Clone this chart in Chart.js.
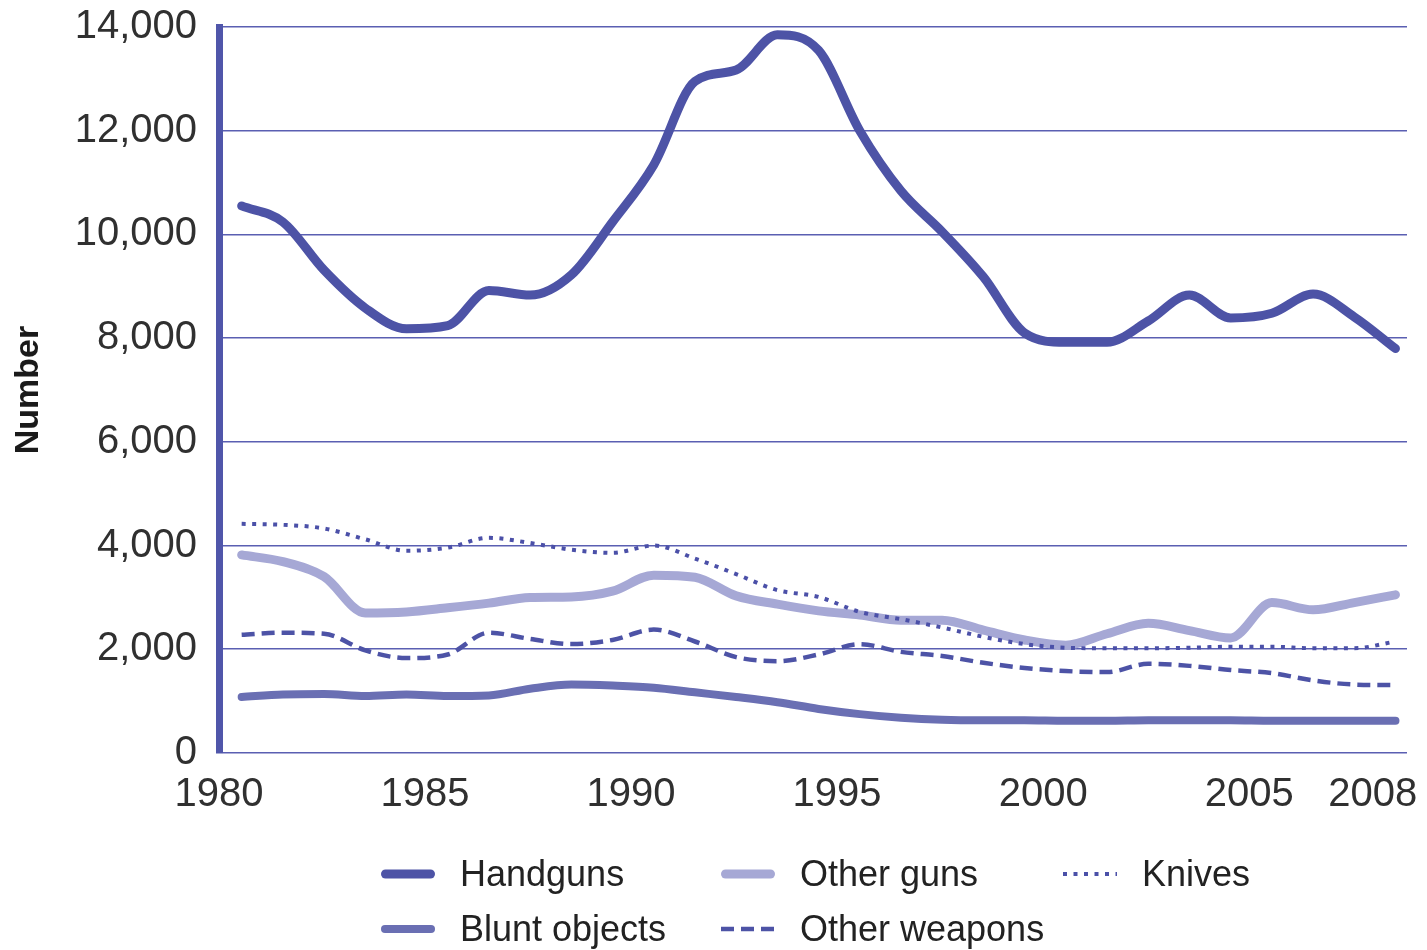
<!DOCTYPE html>
<html>
<head>
<meta charset="utf-8">
<script src="https://cdn.jsdelivr.net/npm/chart.js@4.4.1/dist/chart.umd.min.js"></script>
<style>
  html, body { margin: 0; padding: 0; background: #ffffff; }
  #wrap { position: relative; width: 1427px; height: 950px; }
  #c { position: absolute; left: 0; top: 0; }
  #legend {
    position: absolute; left: 380px; top: 846px;
    display: grid; grid-template-columns: 340px 342px auto; grid-auto-rows: 55px;
    font-family: "Liberation Sans", Arial, sans-serif; font-size: 36px; color: #222;
  }
  .item { display: flex; align-items: center; white-space: nowrap; }
  .item canvas { margin-right: 24px; }
</style>
</head>
<body>
<div id="wrap">
  <canvas id="c" width="1427" height="950"></canvas>
  <div id="legend"></div>
</div>
<script>
const years = [1980,1981,1982,1983,1984,1985,1986,1987,1988,1989,1990,1991,1992,1993,1994,1995,1996,1997,1998,1999,2000,2001,2002,2003,2004,2005,2006,2007,2008];
const xTickValues = [1980,1985,1990,1995,2000,2005,2008];
const yTickStep = 2000;
const yMax = 14000;

const handguns = [10550,10240,9310,8580,8180,8240,8920,8830,9220,10240,11340,12950,13170,13850,13550,12000,10840,10050,9180,8100,7920,7920,8330,8830,8390,8480,8850,8410,7800];
const otherGuns = [3820,3690,3400,2700,2720,2800,2890,3000,3010,3120,3430,3390,3030,2870,2740,2660,2560,2560,2370,2180,2080,2300,2500,2360,2220,2900,2760,2900,3050];
const knives = [4420,4400,4330,4120,3900,3960,4150,4050,3920,3860,4000,3750,3450,3140,3010,2720,2580,2420,2240,2100,2030,2020,2020,2030,2050,2050,2020,2020,2150];
const bluntObjects = [1080,1130,1140,1100,1130,1100,1110,1240,1320,1300,1260,1170,1080,980,850,750,680,640,630,630,620,620,630,630,630,620,620,620,620];
const otherWeapons = [2280,2320,2300,1980,1830,1900,2320,2200,2100,2180,2380,2150,1850,1770,1900,2100,1950,1870,1740,1640,1580,1560,1720,1680,1600,1540,1400,1320,1310];

const seriesNames = ["Handguns","Other guns","Knives","Blunt objects","Other weapons"];

// values are annual figures plotted at mid-year
const pts = arr => arr.map((v, i) => ({ x: years[i] + 0.55, y: v }));

const base = { fill: false, pointRadius: 0, pointHoverRadius: 0, cubicInterpolationMode: 'monotone', borderJoinStyle: 'round' };

const datasets = [
  Object.assign({}, base, { label: seriesNames[0], data: pts(handguns), borderColor: '#4d53a6', borderWidth: 9, borderCapStyle: 'round', order: 1 }),
  Object.assign({}, base, { label: seriesNames[1], data: pts(otherGuns), borderColor: '#a6a8d5', borderWidth: 9, borderCapStyle: 'round', order: 4 }),
  Object.assign({}, base, { label: seriesNames[2], data: pts(knives), borderColor: '#4b50a8', borderWidth: 4, borderDash: [4, 6.5], borderCapStyle: 'butt', order: 3 }),
  Object.assign({}, base, { label: seriesNames[3], data: pts(bluntObjects), borderColor: '#6a6fb3', borderWidth: 8, borderCapStyle: 'round', order: 5 }),
  Object.assign({}, base, { label: seriesNames[4], data: pts(otherWeapons), borderColor: '#4d53a6', borderWidth: 4.5, borderDash: [13, 7], borderCapStyle: 'butt', order: 2 })
];

const tickFont = { family: '"Liberation Sans", Arial, sans-serif', size: 40 };

const chart = new Chart(document.getElementById('c'), {
  type: 'line',
  data: { datasets },
  options: {
    responsive: false,
    animation: false,
    events: [],
    layout: { padding: { top: 27, right: 20, left: 0, bottom: 0 } },
    plugins: { legend: { display: false }, tooltip: { enabled: false } },
    scales: {
      x: {
        type: 'linear',
        min: 1980,
        max: 2008.83,
        afterBuildTicks: s => { s.ticks = xTickValues.map(v => ({ value: v })); },
        afterFit: s => { s.height = 197; s.paddingLeft = 0; s.paddingRight = 0; },
        grid: { display: false, drawTicks: false },
        border: { display: false },
        ticks: { font: tickFont, color: '#303030', padding: 18, maxRotation: 0, autoSkip: false, callback: v => String(v) }
      },
      y: {
        min: 0,
        max: yMax,
        afterFit: s => { s.width = 219; s.paddingTop = 0; s.paddingBottom = 0; },
        ticks: { stepSize: yTickStep, font: tickFont, color: '#303030', padding: 22, callback: v => v.toLocaleString('en-US') },
        grid: { color: '#5a5fb2', lineWidth: 1.6, drawTicks: false },
        border: { display: true, color: '#5056aa', width: 7 },
        title: {
          display: true, text: 'Number', color: '#1a1a1a',
          font: { family: '"Liberation Sans Narrow", "Liberation Sans", Arial, sans-serif', size: 34, weight: 'bold' },
          padding: { top: 8, bottom: 0 }
        }
      }
    }
  }
});

// HTML legend built from the chart's datasets, in the reference order
const legend = document.getElementById('legend');
chart.data.datasets.forEach(ds => {
  const item = document.createElement('div');
  item.className = 'item';
  const cv = document.createElement('canvas');
  cv.width = 56; cv.height = 16;
  const g = cv.getContext('2d');
  g.strokeStyle = ds.borderColor;
  g.lineWidth = ds.borderWidth;
  g.lineCap = ds.borderCapStyle || 'butt';
  g.setLineDash(ds.borderDash || []);
  const pad = g.lineCap === 'round' ? ds.borderWidth / 2 : 0;
  g.beginPath(); g.moveTo(pad + 1, 8); g.lineTo(55 - pad, 8); g.stroke();
  const span = document.createElement('span');
  span.textContent = ds.label;
  item.appendChild(cv); item.appendChild(span);
  legend.appendChild(item);
});
</script>
</body>
</html>
